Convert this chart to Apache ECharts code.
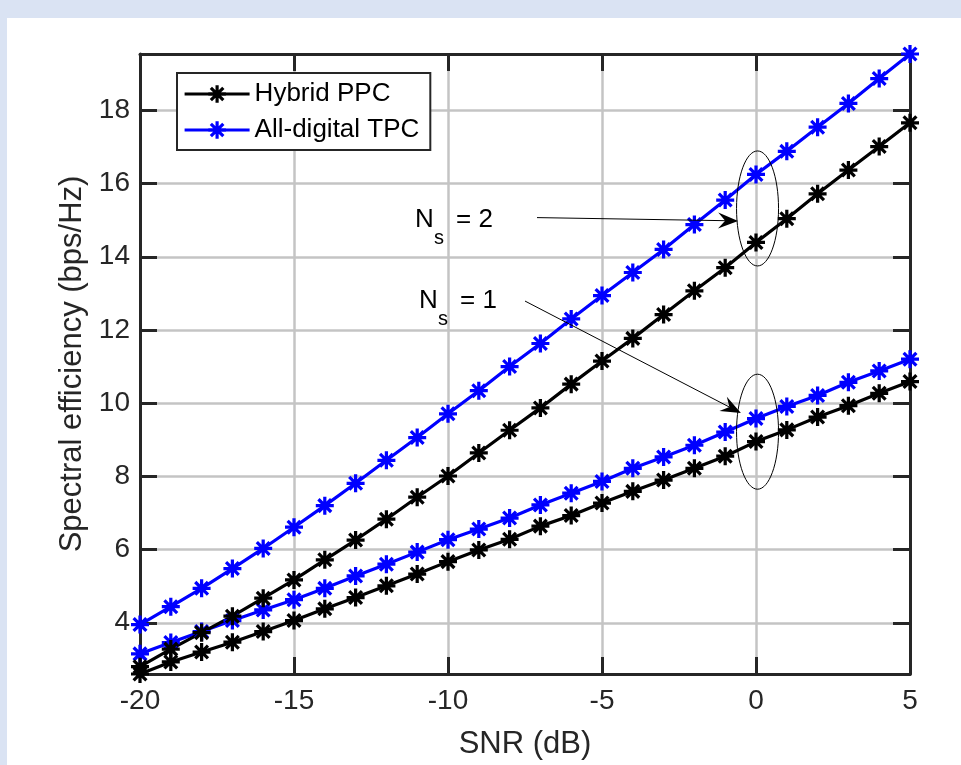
<!DOCTYPE html>
<html><head><meta charset="utf-8">
<script src="https://cdn.jsdelivr.net/npm/echarts@6/dist/echarts.min.js"></script>
<style>html,body{margin:0;padding:0;background:#dae3f3}
#panel{position:absolute;left:7px;top:18px;width:954px;height:747px;background:#fff}
#c{position:absolute;left:0;top:0;width:961px;height:765px}</style>
</head><body><div id="panel"></div><div id="c"></div>
<script>
// ---- data ----
const snr = [-20,-19,-18,-17,-16,-15,-14,-13,-12,-11,-10,-9,-8,-7,-6,-5,-4,-3,-2,-1,0,1,2,3,4,5];
const digitalNs2 = [3.95,4.44,4.94,5.48,6.03,6.61,7.20,7.81,8.44,9.06,9.71,10.34,11.00,11.63,12.30,12.94,13.57,14.20,14.88,15.55,16.25,16.88,17.54,18.19,18.87,19.54];
const hybridNs2  = [2.80,3.28,3.73,4.18,4.67,5.17,5.72,6.26,6.83,7.43,8.01,8.64,9.26,9.87,10.52,11.15,11.77,12.42,13.07,13.70,14.39,15.04,15.72,16.37,17.01,17.66];
const digitalNs1 = [3.15,3.46,3.76,4.06,4.35,4.63,4.94,5.28,5.60,5.93,6.27,6.56,6.86,7.22,7.54,7.86,8.22,8.53,8.85,9.21,9.58,9.91,10.21,10.57,10.88,11.20];
const hybridNs1  = [2.60,2.93,3.20,3.47,3.76,4.06,4.38,4.69,5.01,5.33,5.67,5.99,6.28,6.64,6.93,7.27,7.59,7.90,8.22,8.55,8.95,9.27,9.62,9.93,10.27,10.59];
const legendNames = ['Hybrid PPC','All-digital TPC'];
const xLabel = 'SNR (dB)';
const yLabel = 'Spectral efficiency (bps/Hz)';

// ---- chart ----
const FONT = '"Liberation Sans", Arial, Helvetica, sans-serif';
const AX = '#262626';
const STAR = 'path://M0 41L100 41L100 59L0 59ZM41 0L59 0L59 100L41 100ZM20.97 8.24L91.76 79.04L79.04 91.76L8.24 20.97ZM79.04 8.24L91.76 20.97L20.97 91.76L8.24 79.04Z';
const all = [].concat(digitalNs2, hybridNs2, digitalNs1, hybridNs1);
const yMin = Math.min.apply(null, all), yMax = Math.max.apply(null, all);
const pairs = ys => snr.map((x, i) => [x, ys[i]]);

const chart = echarts.init(document.getElementById('c'), null, {renderer: 'canvas'});

function mkSeries(name, ys, color) {
  return {
    type: 'line', name: name, data: pairs(ys),
    symbol: STAR, symbolSize: 18,
    lineStyle: {color: color, width: 3.2},
    itemStyle: {color: color, borderWidth: 0},
    emphasis: {disabled: true}, silent: true
  };
}
const tick = () => ({show: true, inside: true, length: 17, lineStyle: {color: AX, width: 3}});
const axLine = () => ({show: true, onZero: false, lineStyle: {color: AX, width: 3}});
const gridSplit = () => ({show: true, lineStyle: {color: '#c4c4c4', width: 2.5, opacity: 1}});

chart.setOption({
  animation: false,
  backgroundColor: 'transparent',
  textStyle: {fontFamily: FONT},
  grid: {left: 140, right: 51, top: 54, bottom: 86},
  legend: {
    data: legendNames, orient: 'vertical', left: 177, top: 73,
    itemWidth: 65, itemHeight: 22, itemGap: 10, padding: [8, 11, 7, 6],
    backgroundColor: '#fff', borderColor: AX, borderWidth: 2,
    lineStyle: {width: 3.2},
    textStyle: {fontSize: 26, color: '#000', fontFamily: FONT}, selectedMode: false
  },
  xAxis: [
    {type: 'value', min: -20, max: 5, interval: 5, position: 'bottom',
     axisLine: axLine(), axisTick: tick(),
     axisLabel: {color: AX, fontSize: 28, margin: 13, fontFamily: FONT},
     splitLine: gridSplit(),
     name: xLabel, nameLocation: 'middle', nameGap: 55,
     nameTextStyle: {fontSize: 31, color: AX, fontFamily: FONT}},
    {type: 'value', min: -20, max: 5, interval: 5, position: 'top',
     axisLine: axLine(), axisTick: tick(), axisLabel: {show: false}, splitLine: {show: false}}
  ],
  yAxis: [
    {type: 'value', min: yMin, max: yMax, splitNumber: 8, minInterval: 2, maxInterval: 2, position: 'left',
     axisLine: axLine(), axisTick: tick(),
     axisLabel: {color: AX, fontSize: 28, margin: 10, fontFamily: FONT, showMinLabel: false, showMaxLabel: false},
     splitLine: gridSplit(),
     name: yLabel, nameLocation: 'middle', nameGap: 49,
     nameTextStyle: {fontSize: 31, color: AX, fontFamily: FONT}},
    {type: 'value', min: yMin, max: yMax, splitNumber: 8, minInterval: 2, maxInterval: 2, position: 'right',
     axisLine: axLine(), axisTick: tick(), axisLabel: {show: false}, splitLine: {show: false}}
  ],
  series: [
    mkSeries(legendNames[1], digitalNs2, '#0000ff'),
    mkSeries(legendNames[1], digitalNs1, '#0000ff'),
    mkSeries(legendNames[0], hybridNs2, '#000000'),
    mkSeries(legendNames[0], hybridNs1, '#000000')
  ]
});

// ---- annotations ----
function arrow(x1, y1, x2, y2) {
  const dx = x2 - x1, dy = y2 - y1, L = Math.hypot(dx, dy);
  const ux = dx / L, uy = dy / L, px = -uy, py = ux;
  const len = 20, w = 8, notch = 13;
  return [
    {type: 'line', z: 100, silent: true,
     shape: {x1: x1, y1: y1, x2: x2 - ux * notch, y2: y2 - uy * notch},
     style: {stroke: '#000', lineWidth: 1}},
    {type: 'polygon', z: 100, silent: true,
     shape: {points: [[x2, y2], [x2 - ux * len + px * w, y2 - uy * len + py * w],
                      [x2 - ux * notch, y2 - uy * notch], [x2 - ux * len - px * w, y2 - uy * len - py * w]]},
     style: {fill: '#000'}}
  ];
}
function label(x, yMid, sub) {
  const t = (tx, ty, s, fs) => ({type: 'text', x: tx, y: ty, z: 100, silent: true,
    style: {text: s, fontSize: fs, fontFamily: FONT, fill: '#000', align: 'left', verticalAlign: 'middle'}});
  return [t(x, yMid, 'N', 26), t(x + 19, yMid + 18.5, 's', 20), t(x + 41, yMid, '= ' + sub, 26)];
}
const g = [];
const P = v => chart.convertToPixel({xAxisIndex: 0, yAxisIndex: 0}, v);
const c2 = P([0.05, 15.32]), c1 = P([0.05, 9.22]);
g.push({type: 'ellipse', z: 100, silent: true, shape: {cx: c2[0], cy: c2[1], rx: 21, ry: 57.5}, style: {fill: 'none', stroke: '#000', lineWidth: 1}});
g.push({type: 'ellipse', z: 100, silent: true, shape: {cx: c1[0], cy: c1[1], rx: 21, ry: 57.5}, style: {fill: 'none', stroke: '#000', lineWidth: 1}});
const a2s = P([-7.11, 15.07]), a2e = P([-0.58, 14.98]);
const a1s = P([-7.50, 12.79]), a1e = P([-0.49, 9.73]);
Array.prototype.push.apply(g, arrow(a2s[0], a2s[1], a2e[0], a2e[1]));
Array.prototype.push.apply(g, arrow(a1s[0], a1s[1], a1e[0], a1e[1]));
Array.prototype.push.apply(g, label(415, 219.7, '2'));
Array.prototype.push.apply(g, label(419, 300.5, '1'));
chart.setOption({graphic: g});
</script></body></html>
